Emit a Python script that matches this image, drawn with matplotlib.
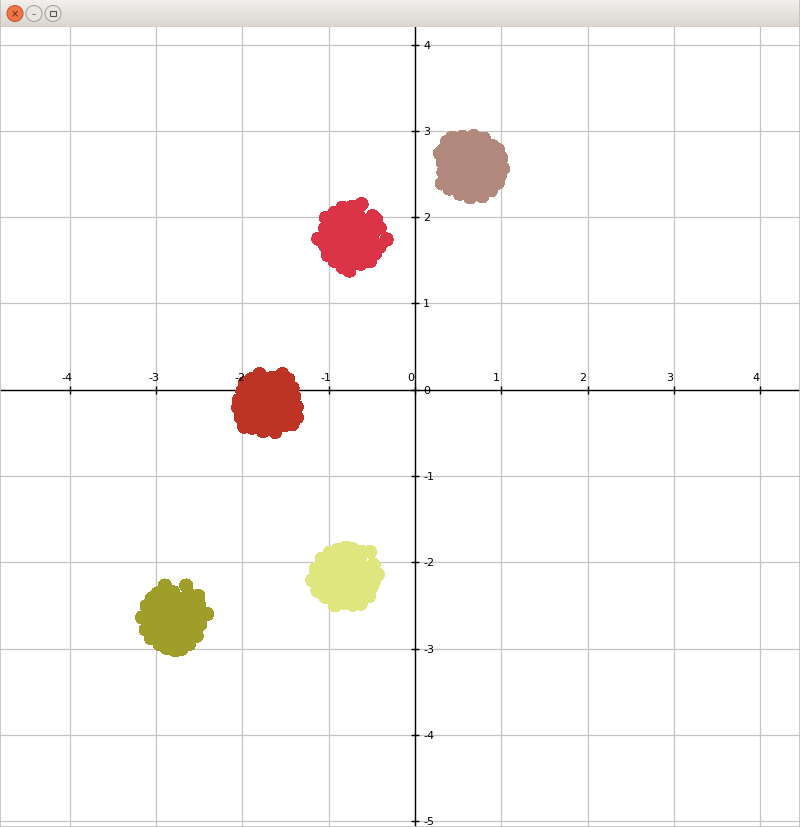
import numpy as np
import matplotlib
matplotlib.use("Agg")
import matplotlib.pyplot as plt
from matplotlib.patches import Circle, Rectangle

# tick values
x_ticks = [-4, -3, -2, -1, 0, 1, 2, 3, 4]
y_ticks = [-5, -4, -3, -2, -1, 0, 1, 2, 3, 4]

# cluster points
red_x = [-0.33, -0.41, -0.45, -0.49, -0.62, -0.73, -0.84, -0.93, -1.03, -1.04,
         -1.12, -1.04, -1.01, -0.93, -0.84, -0.76, -0.63, -0.52, -0.46, -0.41,
         -0.47, -0.54, -0.66, -0.80, -0.92, -0.99, -0.99, -0.92, -0.80, -0.66,
         -0.54, -0.47,
         -0.51, -0.54, -0.62, -0.74, -0.84, -0.92, -0.95, -0.91, -0.83, -0.72,
         -0.61, -0.54, -0.63, -0.68, -0.79, -0.83, -0.78, -0.67, -0.73]
red_y = [1.74, 1.87, 1.97, 2.01, 2.15, 2.12, 2.11, 2.05, 1.99, 1.87,
         1.75, 1.67, 1.56, 1.49, 1.42, 1.38, 1.46, 1.49, 1.58, 1.66,
         1.84, 1.96, 2.03, 2.03, 1.96, 1.84, 1.70, 1.58, 1.51, 1.51,
         1.58, 1.70,
         1.78, 1.89, 1.96, 2.00, 1.95, 1.87, 1.76, 1.66, 1.57, 1.55,
         1.59, 1.67, 1.77, 1.86, 1.86, 1.77, 1.69, 1.69, 1.78]

brown_x = [1.02, 1.00, 0.96, 0.90, 0.80, 0.68, 0.55, 0.43, 0.37, 0.33,
           0.29, 0.32, 0.33, 0.31, 0.40, 0.52, 0.64, 0.78, 0.88, 0.96, 0.98,
           0.93, 0.86, 0.73, 0.57, 0.44, 0.37, 0.37, 0.44, 0.57, 0.73,
           0.86, 0.93,
           0.86, 0.84, 0.76, 0.64, 0.52, 0.46, 0.44, 0.46, 0.55, 0.66,
           0.77, 0.84, 0.74, 0.70, 0.60, 0.55, 0.58, 0.69, 0.65]
brown_y = [2.56, 2.68, 2.78, 2.82, 2.91, 2.94, 2.93, 2.92, 2.87, 2.78,
           2.74, 2.64, 2.52, 2.39, 2.33, 2.27, 2.23, 2.24, 2.31, 2.40, 2.48,
           2.68, 2.81, 2.88, 2.88, 2.81, 2.68, 2.52, 2.39, 2.32, 2.32,
           2.39, 2.52,
           2.58, 2.70, 2.78, 2.82, 2.78, 2.69, 2.58, 2.47, 2.40, 2.38,
           2.42, 2.49, 2.60, 2.68, 2.68, 2.60, 2.52, 2.51, 2.60]

darkred_x = [-1.37, -1.37, -1.40, -1.42, -1.47, -1.54, -1.65, -1.80, -1.90, -1.97,
             -2.00, -2.04, -2.05, -2.02, -1.98, -1.89, -1.76, -1.62, -1.51, -1.42,
             -1.44, -1.51, -1.63, -1.77, -1.89, -1.96, -1.96, -1.89, -1.77, -1.63,
             -1.51, -1.44,
             -1.50, -1.53, -1.62, -1.73, -1.84, -1.89, -1.90, -1.84, -1.73, -1.61,
             -1.53, -1.62, -1.66, -1.76, -1.80, -1.74, -1.64, -1.70]
darkred_y = [-0.32, -0.20, -0.08, 0.02, 0.12, 0.18, 0.14, 0.18, 0.12, 0.08,
             -0.02, -0.12, -0.21, -0.32, -0.43, -0.44, -0.48, -0.49, -0.41, -0.40,
             -0.08, 0.04, 0.11, 0.11, 0.04, -0.08, -0.22, -0.34, -0.41, -0.41,
             -0.34, -0.22,
             -0.15, -0.03, 0.04, 0.06, 0.00, -0.10, -0.22, -0.32, -0.36, -0.33,
             -0.26, -0.15, -0.07, -0.08, -0.16, -0.24, -0.23, -0.15]

yellow_x = [-0.43, -0.48, -0.52, -0.62, -0.72, -0.80, -0.90, -0.99, -1.08, -1.15,
            -1.19, -1.13, -1.04, -0.93, -0.82, -0.72, -0.63, -0.53, -0.50, -0.47,
            -0.57, -0.64, -0.76, -0.90, -1.02, -1.09, -1.09, -1.02, -0.90, -0.76,
            -0.64, -0.57,
            -0.62, -0.64, -0.72, -0.84, -0.95, -1.02, -1.02, -0.96, -0.85, -0.73,
            -0.65, -0.73, -0.77, -0.87, -0.92, -0.86, -0.76, -0.83]
yellow_y = [-2.14, -2.03, -1.88, -1.88, -1.85, -1.83, -1.86, -1.89, -1.96, -2.08,
            -2.21, -2.33, -2.40, -2.50, -2.47, -2.49, -2.48, -2.39, -2.28, -2.21,
            -2.10, -1.98, -1.91, -1.91, -1.98, -2.10, -2.24, -2.36, -2.43, -2.43,
            -2.36, -2.24,
            -2.16, -2.04, -1.97, -1.96, -2.01, -2.11, -2.23, -2.33, -2.37, -2.36,
            -2.28, -2.16, -2.08, -2.08, -2.17, -2.26, -2.25, -2.17]

olive_x = [-2.41, -2.49, -2.53, -2.62, -2.70, -2.78, -2.88, -2.96, -3.06, -3.12,
           -3.16, -3.11, -3.05, -2.98, -2.90, -2.80, -2.65, -2.62, -2.51, -2.50,
           -2.56, -2.63, -2.75, -2.89, -3.01, -3.08, -3.08, -3.01, -2.89, -2.75,
           -2.63, -2.56,
           -2.62, -2.64, -2.73, -2.85, -2.96, -3.01, -2.99, -2.91, -2.79, -2.68,
           -2.63, -2.72, -2.76, -2.87, -2.91, -2.86, -2.75, -2.82]
olive_y = [-2.60, -2.72, -2.85, -2.95, -3.00, -3.02, -2.99, -2.95, -2.88, -2.78,
           -2.64, -2.51, -2.42, -2.36, -2.27, -2.35, -2.27, -2.38, -2.39, -2.50,
           -2.61, -2.49, -2.42, -2.42, -2.49, -2.61, -2.75, -2.87, -2.94, -2.94,
           -2.87, -2.75,
           -2.66, -2.54, -2.47, -2.46, -2.52, -2.64, -2.77, -2.86, -2.88, -2.84,
           -2.76, -2.68, -2.59, -2.59, -2.68, -2.77, -2.77, -2.68]

clusters = [
    (red_x, red_y, "#db3446"),
    (brown_x, brown_y, "#b0887c"),
    (darkred_x, darkred_y, "#be3424"),
    (yellow_x, yellow_y, "#dee67d"),
    (olive_x, olive_y, "#a09e2a"),
]

W, H, BAR = 800, 828, 28
fig = plt.figure(figsize=(W / 100, H / 100), dpi=100)
fig.patch.set_facecolor("white")

# plot area
ax = fig.add_axes([0, 0, 1, (H - BAR) / H])
ax.set_xlim(-4.809, 4.461)
ax.set_ylim(-5.068, 4.203)
ax.set_xticks(x_ticks)
ax.set_yticks(y_ticks)
ax.grid(True, color="#c4c4c4", lw=0.9)
ax.set_axisbelow(True)
for side in ["top", "right"]:
    ax.spines[side].set_visible(False)
ax.spines["left"].set_position(("data", 0))
ax.spines["bottom"].set_position(("data", 0))
for side in ["left", "bottom"]:
    ax.spines[side].set_linewidth(1.0)
    ax.spines[side].set_color("black")
ax.tick_params(direction="inout", length=6, width=1.0,
               labelleft=False, labelbottom=False)

for xs, ys, col in clusters:
    ax.scatter(xs, ys, s=90, c=col, edgecolors="none", zorder=3,
               antialiased=False)

# tick labels: x above the axis (starting just left of the tick), y to the right
for t in x_ticks:
    ax.annotate(str(t), (t, 0), xytext=(-8, 8), textcoords="offset pixels",
                ha="left", va="bottom", fontsize=8, zorder=5)
for t in y_ticks:
    ax.annotate(str(t), (0, t), xytext=(8, 0), textcoords="offset pixels",
                ha="left", va="center", fontsize=8, zorder=5)

# window title bar
tb = fig.add_axes([0, (H - BAR) / H, 1, BAR / H])
grad = np.linspace(0, 1, 50).reshape(-1, 1)
top_c = np.array([0.949, 0.945, 0.937])
bot_c = np.array([0.855, 0.835, 0.808])
img = top_c + (bot_c - top_c) * grad[..., None]
tb.imshow(np.repeat(img, 2, axis=1), extent=[0, W, BAR, 0], aspect="auto")
tb.set_xlim(0, W)
tb.set_ylim(BAR, 0)
tb.axis("off")
tb.plot([0, W], [BAR - 0.5, BAR - 0.5], color="#c2bcb2", lw=1)
tb.add_patch(Circle((15, 14.5), 8, fc="#ef7446", ec="#c95a36", lw=0.8))
tb.text(15, 14.5, "×", ha="center", va="center", fontsize=7, color="#5a2a1a")
tb.add_patch(Circle((34, 14.5), 8, fc="#e9e6e1", ec="#aaa59d", lw=0.8))
tb.text(34, 14.5, "–", ha="center", va="center", fontsize=6, color="#555")
tb.add_patch(Circle((53, 14.5), 8, fc="#e9e6e1", ec="#aaa59d", lw=0.8))
tb.add_patch(Rectangle((50.2, 11.7), 5.6, 5.6, fc="none", ec="#555", lw=0.8))

# window border
fig.patches.append(Rectangle((0, 0), 1, 1, transform=fig.transFigure,
                             fill=False, ec="#bdbdbd", lw=1.2))

fig.savefig("out.png", dpi=100)
